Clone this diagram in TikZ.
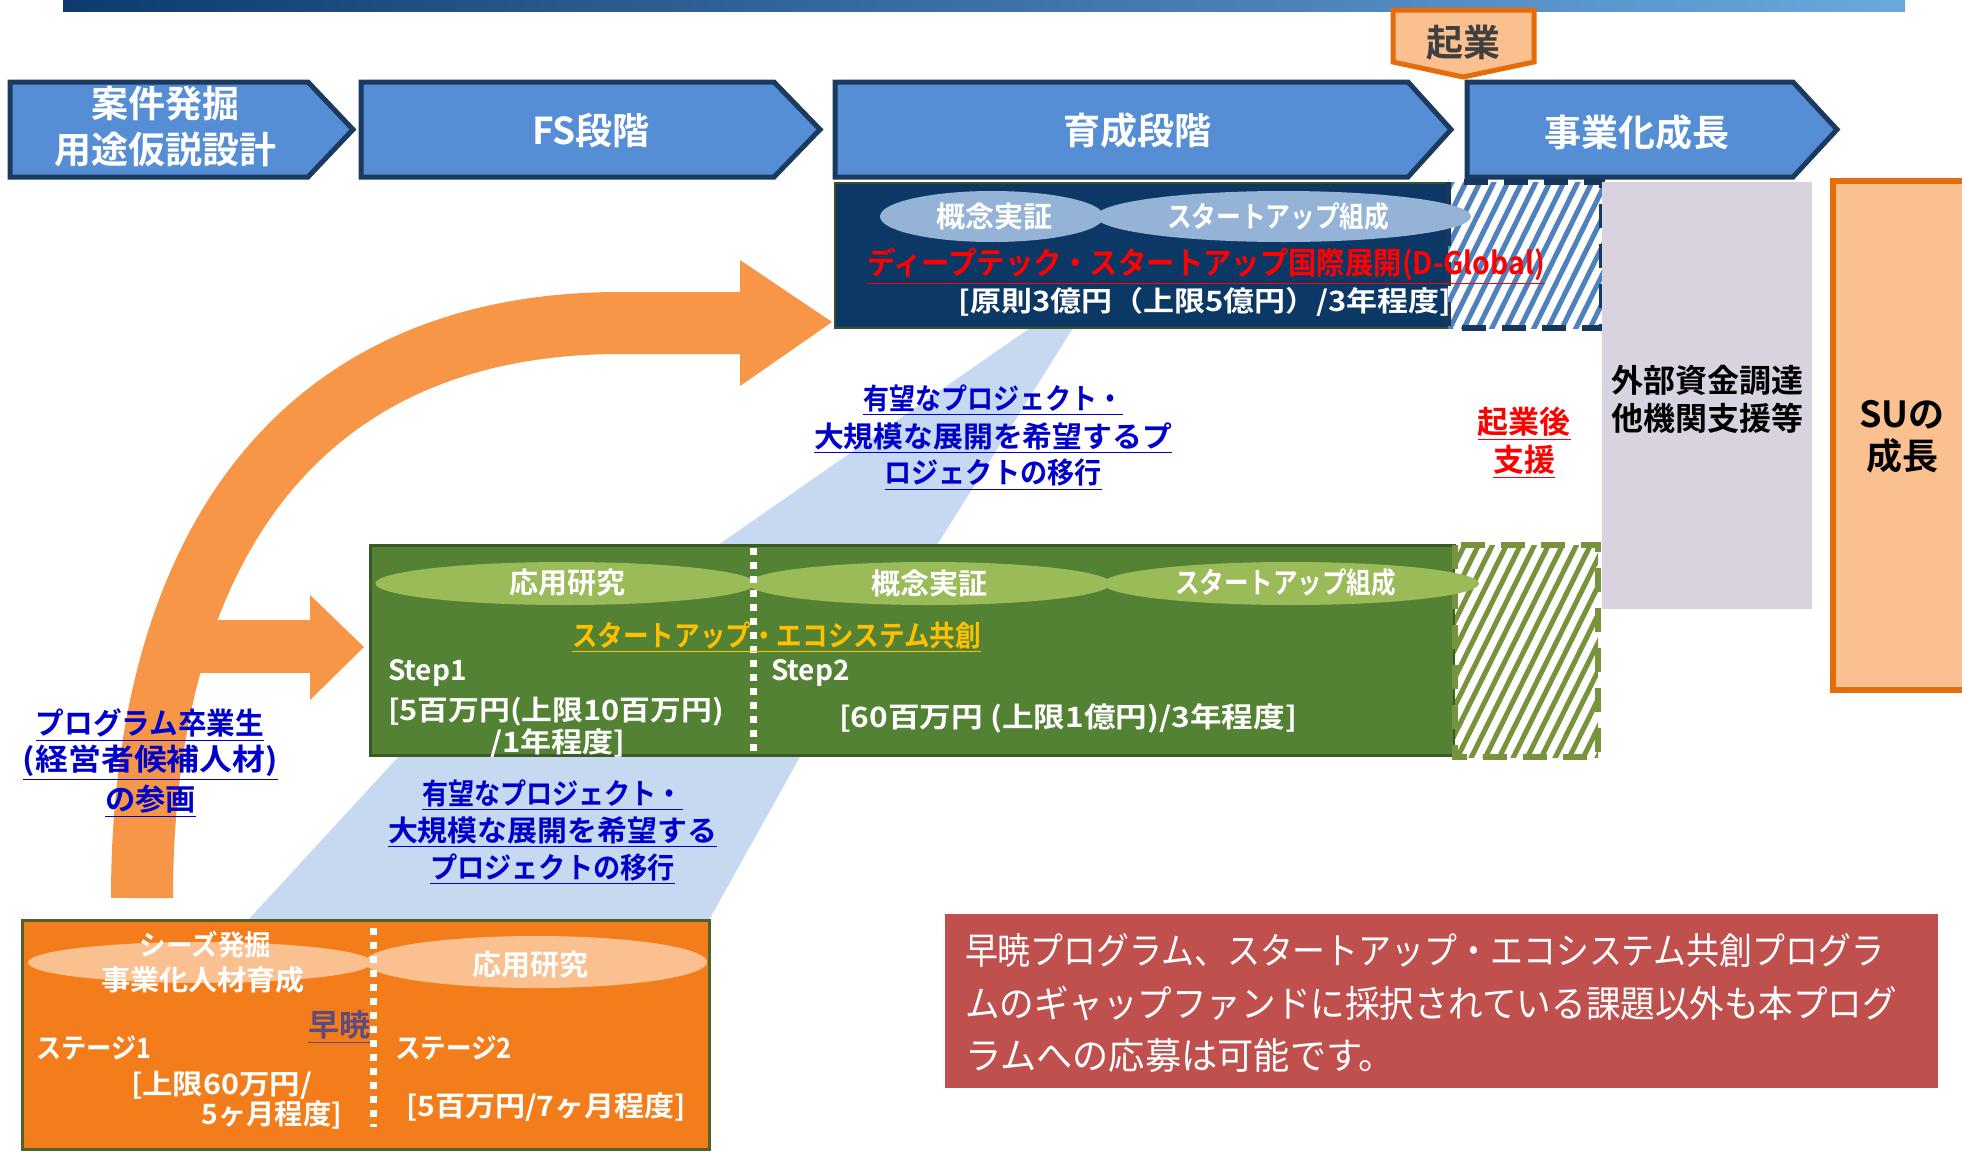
\documentclass[tikz,border=0pt]{standalone}
\usepackage{fontspec}
\setmainfont{Noto Sans CJK JP}[BoldFont={* Bold}]
\usepackage{graphicx}
\newcommand{\fitw}[2]{\resizebox{#1}{\height}{#2}}
\definecolor{barL}{HTML}{0E3A70}
\definecolor{barR}{HTML}{6AA8DE}
\definecolor{chevblue}{HTML}{558ED5}
\definecolor{chevline}{HTML}{1B3A5F}
\definecolor{navy}{HTML}{0C3866}
\definecolor{navyedge}{HTML}{3A4F2A}
\definecolor{nell}{HTML}{95B3D7}
\definecolor{hblue}{HTML}{4F81BD}
\definecolor{navyline}{HTML}{17375E}
\definecolor{graybox}{HTML}{D9D3E0}
\definecolor{lorange}{HTML}{FAC090}
\definecolor{dorange}{HTML}{E46C0A}
\definecolor{gbox}{HTML}{548235}
\definecolor{gedge}{HTML}{3B5B25}
\definecolor{gell}{HTML}{9BBB59}
\definecolor{hgreen}{HTML}{77933C}
\definecolor{obox}{HTML}{F47D1B}
\definecolor{oedge}{HTML}{4F6228}
\definecolor{oell}{HTML}{FAC090}
\definecolor{arrowc}{HTML}{F79646}
\definecolor{beam}{HTML}{C6D9F0}
\definecolor{notebox}{HTML}{C0504D}
\definecolor{bluetxt}{HTML}{0000CC}
\definecolor{yellowtxt}{HTML}{FFC000}
\definecolor{purpletxt}{HTML}{604A7B}
\definecolor{redtxt}{HTML}{FF0000}
\definecolor{darktxt}{HTML}{404040}
\begin{document}
\begin{tikzpicture}[x=0.5pt,y=-0.5pt,
  t/.style={inner sep=0pt, outer sep=0pt, text=white},
  chev/.style={fill=chevblue, draw=chevline, line width=2.5pt, line join=miter},
  wdash/.style={draw=white, line width=3.5pt, dash pattern=on 3.5pt off 3.5pt}]
\useasboundingbox (0,0) rectangle (1962,1151);
% top bar
\shade[left color=barL, right color=barR] (63,0) rectangle (1905,11);
% transition beams
\fill[beam] (1030,328) -- (1073,328) -- (937,545) -- (718,545) -- cycle;
\fill[beam] (400,755) -- (801,755) -- (709,920) -- (248,920) -- cycle;
% big curved arrow
\draw[line width=31pt, arrowc] (142,898) .. controls (142,560) and (290,323) .. (620,323) -- (742,323);
\fill[arrowc] (740,260) -- (832,322) -- (740,386) -- cycle;
\fill[arrowc] (185,620) rectangle (312,673);
\fill[arrowc] (310,595) -- (364,647) -- (310,700) -- cycle;
% chevrons
\draw[chev] (10,82) -- (308,82) -- (353,129.5) -- (308,177) -- (10,177) -- cycle;
\draw[chev] (361,82) -- (774,82) -- (820,129.5) -- (774,177) -- (361,177) -- cycle;
\draw[chev] (835,82) -- (1408,82) -- (1451,129.5) -- (1408,177) -- (835,177) -- cycle;
\draw[chev] (1467,82) -- (1793,82) -- (1837,129.5) -- (1793,177) -- (1467,177) -- cycle;
\node[t, font=\bfseries\fontsize{18.5}{23}\selectfont, align=center] (c1t) at (165,127) {案件発掘\\用途仮説設計};
\node[t, font=\bfseries\fontsize{18.5}{23}\selectfont] (c2t) at (591,130) {FS段階};
\node[t, font=\bfseries\fontsize{18.5}{23}\selectfont] (c3t) at (1137,130) {育成段階};
\node[t, font=\bfseries\fontsize{18.5}{23}\selectfont] (c4t) at (1637,132) {事業化成長};
% kigyo pentagon
\draw[fill=lorange, draw=dorange, line width=2.5pt] (1393,10) -- (1534,10) -- (1534,62) -- (1463,77) -- (1393,62) -- cycle;
\node[t, text=darktxt, font=\bfseries\fontsize{18.5}{23}\selectfont] (kig) at (1463,43) {起業};
% navy box
\draw[fill=navy, draw=navyedge, line width=1pt] (835,183) rectangle (1452,328);
\begin{scope}
\clip (1448,182) rectangle (1602,328);
\fill[white] (1448,182) rectangle (1602,328);
\foreach \i in {-7,...,11} \draw[hblue, line width=2.5pt] ({1448+\i*14},332) -- ++(76,-154);
\end{scope}
\draw[navyline, line width=3pt, dash pattern=on 12pt off 8pt] (1448,182) rectangle (1602,328);
\fill[nell] (992,216.5) ellipse [x radius=56pt, y radius=12.75pt];
\fill[nell] (1283.5,216.5) ellipse [x radius=93.75pt, y radius=12.75pt];
\node[t, font=\bfseries\fontsize{14.5}{17}\selectfont] (nv1) at (994,217) {概念実証};
\node[t, font=\bfseries\fontsize{14.5}{17}\selectfont] (nv2) at (1278,217) {\fitw{111pt}{スタートアップ組成}};
\node[t, text=redtxt, font=\bfseries\fontsize{15.5}{18}\selectfont] (dg) at (1206,266) {\fitw{339pt}{\underline{ディープテック・スタートアップ国際展開(D-Global)}}};
\node[t, font=\bfseries\fontsize{14}{17}\selectfont] (dgb) at (1205,302) {\fitw{246.5pt}{[原則3億円（上限5億円）/3年程度]}};
% grey box and SU box
\fill[graybox] (1602,182) rectangle (1812,609);
\node[t, text=black, font=\bfseries\fontsize{16}{19}\selectfont, align=center] (ext) at (1707,399) {外部資金調達\\他機関支援等};
\draw[fill=lorange, draw=dorange, line width=3pt] (1833,181) rectangle (1995,690);
\node[t, text=black, font=\bfseries\fontsize{18}{21}\selectfont, align=center] (su) at (1902,437) {SUの\\成長};
\node[t, text=redtxt, font=\bfseries\fontsize{15.5}{19}\selectfont, align=center] (kgs) at (1524,443) {\underline{起業後}\\\underline{支援}};
% upper transition text
\node[t, text=bluetxt, font=\bfseries\fontsize{14.5}{17}\selectfont] (m1a) at (993,400) {\fitw{130pt}{\underline{有望なプロジェクト・}}};
\node[t, text=bluetxt, font=\bfseries\fontsize{14.5}{17}\selectfont] (m1b) at (993,438) {\fitw{179pt}{\underline{大規模な展開を希望するプ}}};
\node[t, text=bluetxt, font=\bfseries\fontsize{14.5}{17}\selectfont] (m1c) at (993,475) {\fitw{108.5pt}{\underline{ロジェクトの移行}}};
% green box
\draw[fill=gbox, draw=gedge, line width=1.5pt] (370,545) rectangle (1454,755);
\begin{scope}
\clip (1455,545) rectangle (1598,757);
\fill[white] (1455,545) rectangle (1598,757);
\foreach \i in {-9,...,11} \draw[hgreen, line width=2.5pt] ({1455+\i*14},762) -- ++(110,-222);
\end{scope}
\draw[hgreen, line width=3pt, dash pattern=on 12pt off 8pt] (1455,545) rectangle (1598,757);
\fill[gell] (565.5,583.5) ellipse [x radius=95pt, y radius=10.75pt];
\fill[gell] (929.5,583.5) ellipse [x radius=90.75pt, y radius=10.75pt];
\fill[gell] (1291,583.5) ellipse [x radius=94pt, y radius=10.75pt];
\draw[wdash] (753,548) -- (753,752);
\node[t, font=\bfseries\fontsize{14.5}{17}\selectfont] (ga) at (567.5,583) {応用研究};
\node[t, font=\bfseries\fontsize{14.5}{17}\selectfont] (gb) at (929.5,583) {概念実証};
\node[t, font=\bfseries\fontsize{14.5}{17}\selectfont] (gc) at (1285.5,583) {\fitw{110.5pt}{スタートアップ組成}};
\node[t, text=yellowtxt, font=\bfseries\fontsize{14.5}{17}\selectfont] (gy) at (776.5,637) {\fitw{204.5pt}{\underline{スタートアップ・エコシステム共創}}};
\node[t, anchor=west, font=\bfseries\fontsize{14}{17}\selectfont] (s1) at (388,673) {Step1};
\node[t, anchor=west, font=\bfseries\fontsize{14}{17}\selectfont] (s1a) at (388,712) {\fitw{168pt}{[5百万円(上限10百万円)}};
\node[t, font=\bfseries\fontsize{14}{17}\selectfont] (s1b) at (557.5,743) {\fitw{67.5pt}{/1年程度]}};
\node[t, anchor=west, font=\bfseries\fontsize{14}{17}\selectfont] (s2) at (771,673) {Step2};
\node[t, font=\bfseries\fontsize{14}{17}\selectfont] (s2a) at (1068,718) {\fitw{229pt}{[60百万円 (上限1億円)/3年程度]}};
% lower transition text
\node[t, text=bluetxt, font=\bfseries\fontsize{14.5}{17}\selectfont] (m2a) at (552.5,795) {\fitw{130.5pt}{\underline{有望なプロジェクト・}}};
\node[t, text=bluetxt, font=\bfseries\fontsize{14.5}{17}\selectfont] (m2b) at (552.5,832) {\fitw{164.5pt}{\underline{大規模な展開を希望する}}};
\node[t, text=bluetxt, font=\bfseries\fontsize{14.5}{17}\selectfont] (m2c) at (552.5,869) {\fitw{122.5pt}{\underline{プロジェクトの移行}}};
% left blue text
\node[t, text=bluetxt, font=\bfseries\fontsize{15}{18}\selectfont] (pg1) at (150,725) {\fitw{114pt}{\underline{プログラム卒業生}}};
\node[t, text=bluetxt, font=\bfseries\fontsize{15}{18}\selectfont] (pg2) at (150.5,763) {\fitw{127.5pt}{\underline{(経営者候補人材)}}};
\node[t, text=bluetxt, font=\bfseries\fontsize{15}{18}\selectfont] (pg3) at (150.5,801) {\fitw{45.5pt}{\underline{の参画}}};
% orange box
\draw[fill=obox, draw=oedge, line width=1.5pt] (22,920) rectangle (709,1149);
\fill[oell] (200,962.5) ellipse [x radius=86pt, y radius=10.25pt];
\fill[oell] (536,962) ellipse [x radius=85.5pt, y radius=13pt];
\draw[wdash] (373,928) -- (373,1127);
\node[t, font=\bfseries\fontsize{14}{17}\selectfont] (oa1) at (205.5,945) {\fitw{65.5pt}{シーズ発掘}};
\node[t, font=\bfseries\fontsize{14}{17}\selectfont] (oa2) at (203,980) {\fitw{102pt}{事業化人材育成}};
\node[t, font=\bfseries\fontsize{14.5}{17}\selectfont] (ob) at (530.5,965) {応用研究};
\node[t, text=purpletxt, font=\bfseries\fontsize{15.5}{18}\selectfont] (oc) at (339,1027) {\underline{早暁}};
\node[t, anchor=west, font=\bfseries\fontsize{14}{17}\selectfont] (od1) at (36,1048) {\fitw{57.5pt}{ステージ1}};
\node[t, anchor=west, font=\bfseries\fontsize{14}{17}\selectfont] (od2) at (131,1085) {\fitw{90.5pt}{[上限60万円/}};
\node[t, anchor=east, font=\bfseries\fontsize{14}{17}\selectfont] (od3) at (342,1115) {\fitw{70pt}{5ヶ月程度]}};
\node[t, anchor=west, font=\bfseries\fontsize{14}{17}\selectfont] (oe1) at (395,1048) {\fitw{58.5pt}{ステージ2}};
\node[t, font=\bfseries\fontsize{14}{17}\selectfont] (oe2) at (546,1107) {\fitw{140pt}{[5百万円/7ヶ月程度]}};
% note box
\fill[notebox] (945,914) rectangle (1938,1088);
\node[t, anchor=west, font=\fontsize{18.5}{22}\selectfont] (n1) at (965,950) {\fitw{459.5pt}{早暁プログラム、スタートアップ・エコシステム共創プログラ}};
\node[t, anchor=west, font=\fontsize{18.5}{22}\selectfont] (n2) at (965,1003) {\fitw{466pt}{ムのギャップファンドに採択されている課題以外も本プログ}};
\node[t, anchor=west, font=\fontsize{18.5}{22}\selectfont] (n3) at (965,1055) {\fitw{215pt}{ラムへの応募は可能です。}};
\end{tikzpicture}
\end{document}
